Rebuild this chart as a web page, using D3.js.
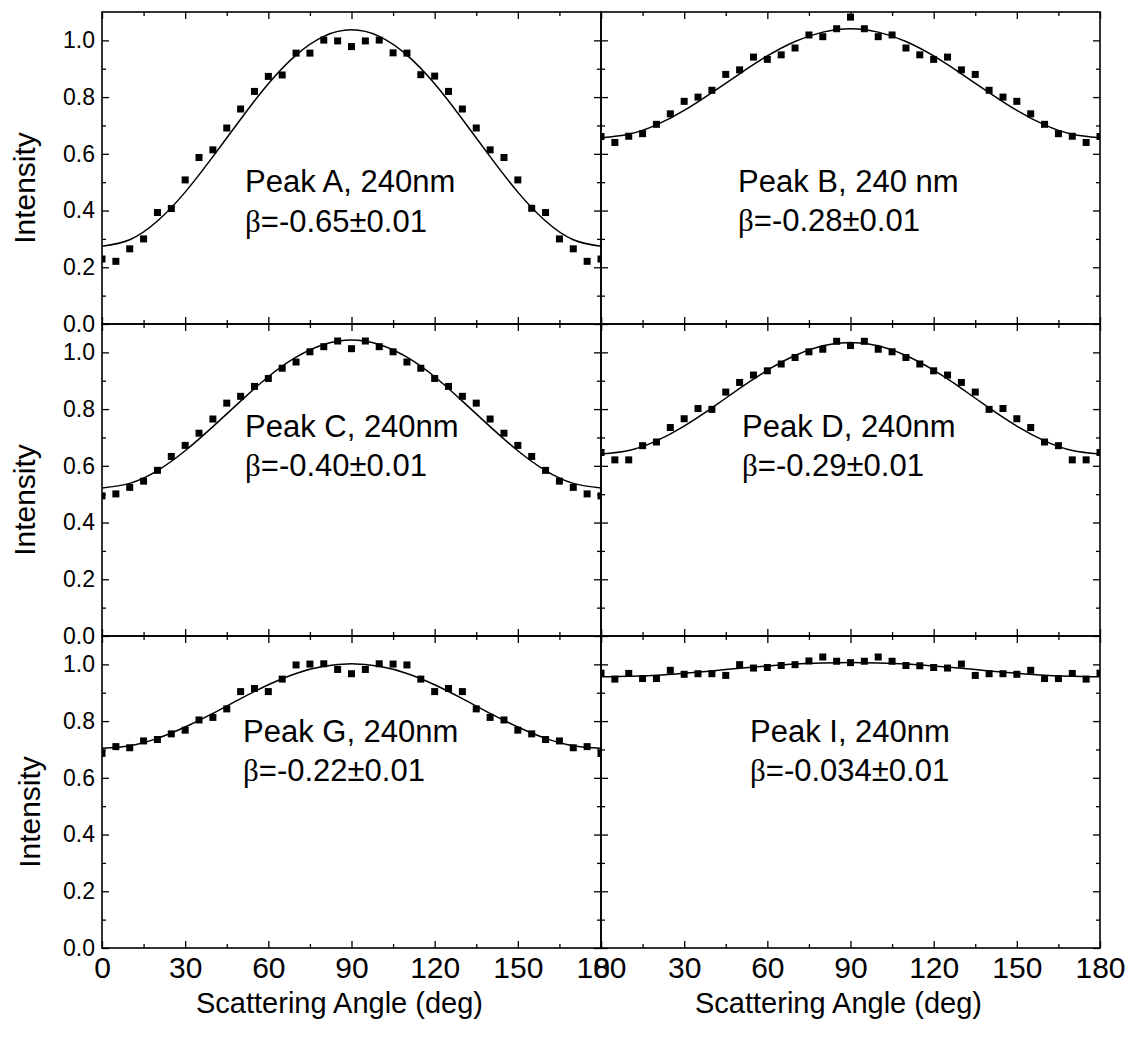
<!DOCTYPE html>
<html>
<head>
<meta charset="utf-8">
<script src="https://cdn.jsdelivr.net/npm/d3@7"></script>
<style>
  html, body { margin: 0; padding: 0; background: #fff; }
  svg { display: block; }
  text { font-family: "Liberation Sans", Arial, sans-serif; fill: #000; }
</style>
</head>
<body>
<svg id="chart" width="1132" height="1039"></svg>
<script>
// ---------------- data ----------------
const angles = [0,5,10,15,20,25,30,35,40,45,50,55,60,65,70,75,80,85,90,95,100,105,110,115,120,125,130,135,140,145,150,155,160,165,170,175,180];
const fitAngles = [0,10,20,30,40,50,60,70,80,90,100,110,120,130,140,150,160,170,180];

const peakA = [0.229,0.221,0.265,0.300,0.393,0.407,0.508,0.587,0.614,0.691,0.758,0.820,0.873,0.878,0.955,0.955,1.001,0.998,0.978,0.998,1.001,0.956,0.955,0.879,0.874,0.820,0.758,0.691,0.614,0.587,0.508,0.408,0.393,0.300,0.265,0.221,0.229];
const peakB = [0.661,0.640,0.662,0.671,0.704,0.741,0.785,0.800,0.824,0.880,0.896,0.941,0.933,0.949,0.973,1.019,1.013,1.041,1.082,1.041,1.013,1.019,0.973,0.949,0.933,0.941,0.896,0.880,0.824,0.800,0.785,0.741,0.704,0.671,0.662,0.640,0.661];
const peakC = [0.494,0.501,0.524,0.546,0.584,0.633,0.672,0.715,0.765,0.821,0.845,0.880,0.908,0.944,0.966,1.002,1.020,1.040,1.013,1.040,1.020,1.002,0.966,0.944,0.908,0.880,0.845,0.821,0.765,0.715,0.672,0.633,0.584,0.546,0.524,0.501,0.494];
const peakD = [0.647,0.621,0.621,0.671,0.684,0.735,0.766,0.802,0.799,0.860,0.894,0.920,0.935,0.959,0.982,1.002,1.011,1.039,1.024,1.039,1.011,1.002,0.982,0.959,0.935,0.920,0.894,0.860,0.799,0.802,0.766,0.735,0.684,0.671,0.621,0.621,0.647];
const peakG = [0.686,0.710,0.706,0.730,0.735,0.755,0.768,0.804,0.813,0.843,0.904,0.915,0.904,0.948,0.998,1.001,1.002,0.982,0.967,0.982,1.002,1.001,0.998,0.948,0.904,0.915,0.904,0.843,0.813,0.804,0.768,0.755,0.735,0.730,0.706,0.710,0.686];
const peakI = [0.969,0.948,0.968,0.950,0.950,0.979,0.965,0.967,0.967,0.961,0.999,0.987,0.989,0.996,0.999,1.012,1.026,1.011,1.006,1.011,1.026,1.011,0.996,0.995,0.989,0.987,1.001,0.961,0.967,0.967,0.965,0.979,0.950,0.950,0.968,0.948,0.969];

const fitA = [0.274,0.297,0.363,0.465,0.590,0.722,0.847,0.948,1.014,1.037,1.014,0.948,0.847,0.722,0.590,0.465,0.363,0.297,0.274];
const fitB = [0.657,0.669,0.702,0.753,0.816,0.882,0.945,0.996,1.029,1.041,1.029,0.996,0.945,0.882,0.816,0.753,0.702,0.669,0.657];
const fitC = [0.522,0.538,0.583,0.653,0.738,0.828,0.914,0.983,1.028,1.044,1.028,0.983,0.914,0.828,0.738,0.653,0.583,0.538,0.522];
const fitD = [0.642,0.654,0.688,0.740,0.804,0.873,0.937,0.989,1.023,1.035,1.023,0.989,0.937,0.873,0.804,0.740,0.688,0.654,0.642];
const fitG = [0.704,0.713,0.739,0.779,0.827,0.879,0.928,0.968,0.993,1.002,0.993,0.968,0.928,0.879,0.827,0.779,0.739,0.713,0.704];
const fitI = [0.956,0.958,0.962,0.969,0.977,0.986,0.994,1.001,1.005,1.007,1.005,1.001,0.994,0.986,0.977,0.969,0.962,0.958,0.956];

const peakLabels = ["Peak A, 240nm","Peak B, 240 nm","Peak C, 240nm","Peak D, 240nm","Peak G, 240nm","Peak I, 240nm"];
const betaLabels = ["=-0.65±0.01","=-0.28±0.01","=-0.40±0.01","=-0.29±0.01","=-0.22±0.01","=-0.034±0.01"];

const xMajorTicks = [0,30,60,90,120,150,180];
const xMinorTicks = [15,45,75,105,135,165];
const yMajorTicks = [0,0.2,0.4,0.6,0.8,1.0];
const yMinorTicks = [0.1,0.3,0.5,0.7,0.9];

const xTitle = "Scattering Angle (deg)";
const yTitle = "Intensity";

// ---------------- layout ----------------
const colX = [102, 601];
const rowY = [12, 324, 636];
const PW = 499, PH = 312;
const panels = [
  {pts: peakA, fit: fitA, col: 0, row: 0, lx: 143, ly: 180, gap: 40},
  {pts: peakB, fit: fitB, col: 1, row: 0, lx: 137, ly: 180, gap: 39},
  {pts: peakC, fit: fitC, col: 0, row: 1, lx: 143, ly: 113, gap: 39},
  {pts: peakD, fit: fitD, col: 1, row: 1, lx: 141, ly: 113, gap: 39},
  {pts: peakG, fit: fitG, col: 0, row: 2, lx: 141, ly: 106, gap: 39},
  {pts: peakI, fit: fitI, col: 1, row: 2, lx: 149, ly: 106, gap: 39}
];

const svg = d3.select("#chart");
const x = d3.scaleLinear().domain([0, 180]).range([0, PW]);
const y = d3.scaleLinear().domain([0, 1.1]).range([PH, 0]);

const line = d3.line().x(d => x(d[0])).y(d => y(d[1])).curve(d3.curveNatural);

panels.forEach((p, k) => {
  const g = svg.append("g").attr("transform", `translate(${colX[p.col]},${rowY[p.row]})`);
  const clipId = "clip" + k;
  g.append("clipPath").attr("id", clipId).append("rect").attr("width", PW).attr("height", PH);

  const plot = g.append("g").attr("clip-path", `url(#${clipId})`);
  plot.append("path")
    .datum(fitAngles.map((a, i) => [a, p.fit[i]]))
    .attr("d", line)
    .attr("fill", "none").attr("stroke", "#000").attr("stroke-width", 1.5);
  const ms = 7;
  plot.selectAll("rect.pt").data(angles.map((a, i) => [a, p.pts[i]])).enter()
    .append("rect").attr("class", "pt")
    .attr("x", d => x(d[0]) - ms / 2).attr("y", d => y(d[1]) - ms / 2)
    .attr("width", ms).attr("height", ms).attr("fill", "#000");

  // axes: ticks pointing inward on all four sides
  const showYLabels = p.col === 0;
  const showXLabels = p.row === 2;
  function styleAxis(sel) {
    sel.select(".domain").remove();
    sel.selectAll(".tick line").attr("stroke", "#000").attr("stroke-width", 1.3);
  }
  // bottom
  const bMaj = d3.axisBottom(x).tickValues(xMajorTicks).tickSize(-7).tickPadding(9)
    .tickFormat(showXLabels ? d3.format("d") : () => "");
  const gb = g.append("g").attr("transform", `translate(0,${PH})`).call(bMaj);
  gb.selectAll("text").style("font-size", "30px").style("font-family", '"Liberation Sans", Arial, sans-serif');
  styleAxis(gb);
  const gbm = g.append("g").attr("transform", `translate(0,${PH})`)
    .call(d3.axisBottom(x).tickValues(xMinorTicks).tickSize(-4).tickFormat(() => ""));
  styleAxis(gbm);
  // top
  const gt = g.append("g").call(d3.axisTop(x).tickValues(xMajorTicks).tickSize(-7).tickFormat(() => ""));
  styleAxis(gt);
  const gtm = g.append("g").call(d3.axisTop(x).tickValues(xMinorTicks).tickSize(-4).tickFormat(() => ""));
  styleAxis(gtm);
  // left
  const lMaj = d3.axisLeft(y).tickValues(yMajorTicks).tickSize(-7).tickPadding(7)
    .tickFormat(showYLabels ? d3.format(".1f") : () => "");
  const gl = g.append("g").call(lMaj);
  gl.selectAll("text").style("font-size", "23px").style("font-family", '"Liberation Sans", Arial, sans-serif');
  styleAxis(gl);
  const glm = g.append("g").call(d3.axisLeft(y).tickValues(yMinorTicks).tickSize(-4).tickFormat(() => ""));
  styleAxis(glm);
  // right
  const gr = g.append("g").attr("transform", `translate(${PW},0)`)
    .call(d3.axisRight(y).tickValues(yMajorTicks).tickSize(-7).tickFormat(() => ""));
  styleAxis(gr);
  const grm = g.append("g").attr("transform", `translate(${PW},0)`)
    .call(d3.axisRight(y).tickValues(yMinorTicks).tickSize(-4).tickFormat(() => ""));
  styleAxis(grm);

  // frame
  g.append("rect").attr("width", PW).attr("height", PH)
    .attr("fill", "none").attr("stroke", "#000").attr("stroke-width", 1.6);

  // annotation
  g.append("text").attr("x", p.lx).attr("y", p.ly)
    .style("font-size", "31px").text(peakLabels[k]);
  const t2 = g.append("text").attr("x", p.lx).attr("y", p.ly + p.gap).style("font-size", "31px");
  t2.append("tspan").style("font-family", '"Liberation Serif", "Times New Roman", serif').text("β");
  t2.append("tspan").text(betaLabels[k]);

  // y title
  if (p.col === 0) {
    const tx = p.row === 2 ? 40 : 35;
    g.append("text")
      .attr("transform", `translate(${tx - colX[0]},${PH / 2 + 20}) rotate(-90)`)
      .attr("text-anchor", "middle").style("font-size", "30px").text(yTitle);
  }
  // x title
  if (p.row === 2) {
    g.append("text").attr("x", PW / 2 - 12).attr("y", PH + 65)
      .attr("text-anchor", "middle").style("font-size", "29px").text(xTitle);
  }
});
</script>
</body>
</html>
